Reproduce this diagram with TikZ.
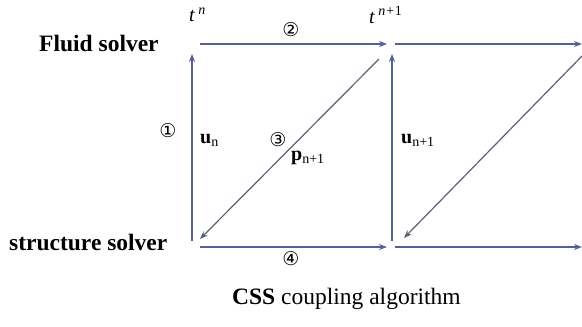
\documentclass[tikz,border=0pt]{standalone}
\usepackage{fontspec}
\setmainfont{Liberation Serif}
\newfontfamily\circfont{DejaVu Sans}
\usetikzlibrary{arrows.meta}
\definecolor{lineblue}{RGB}{84,96,150}
\definecolor{diaggray}{RGB}{92,96,124}
\begin{document}
\begin{tikzpicture}[x=1pt,y=-1pt,
  flow/.style={draw=lineblue,line width=1.4pt,-{Stealth[length=8pt,width=6pt]}},
  diag/.style={draw=diaggray,line width=1.2pt,-{Stealth[length=8pt,width=6pt]}},
  lbl/.style={inner sep=0pt,font=\fontsize{23.5}{26}\selectfont\bfseries},
  sym/.style={inner sep=0pt,font=\fontsize{20}{22}\selectfont},
  circ/.style={inner sep=0pt,font=\fontsize{19}{21}\selectfont\circfont}]
\useasboundingbox (0,0) rectangle (582,327);
% coordinates
\coordinate (a1) at (200,44); \coordinate (a2) at (387,44);
\coordinate (b1) at (395,44); \coordinate (b2) at (582,44);
\coordinate (c1) at (200,247); \coordinate (c2) at (387,247);
\coordinate (d1) at (395,247); \coordinate (d2) at (582,247);
\coordinate (v1s) at (192,241); \coordinate (v1e) at (192,54);
\coordinate (v2s) at (392,241); \coordinate (v2e) at (392,54);
\coordinate (g1s) at (379,59); \coordinate (g1e) at (200,239);
\coordinate (g2s) at (582,56); \coordinate (g2e) at (404,238);
% connectors
\draw[flow] (a1) -- (a2);
\draw[flow] (b1) -- (b2);
\draw[flow] (c1) -- (c2);
\draw[flow] (d1) -- (d2);
\draw[flow] (v1s) -- (v1e);
\draw[flow] (v2s) -- (v2e);
\draw[diag] (g1s) -- (g1e);
\draw[diag] (g2s) -- (g2e);
% labels
\node[lbl,anchor=west] (fluid) at (39,43) {Fluid solver};
\node[lbl,anchor=west] (struct) at (9,242) {structure solver};
\node[sym,anchor=west] (tn) at (189,15) {\textit{t}\,\textsuperscript{\textit{n}}};
\node[sym,anchor=west] (tn1) at (369,15) {\textit{t}\,\textsuperscript{\textit{n+}1}};
\node[circ] (c2lbl) at (291,30) {②};
\node[circ] (c1lbl) at (168,131) {①};
\node[circ] (c3lbl) at (278,140) {③};
\node[circ] (c4lbl) at (291,259) {④};
\node[sym,anchor=west] (un) at (200,140) {\textbf{u}\textsubscript{n}};
\node[sym,anchor=west] (pn1) at (291,158) {\textbf{p}\textsubscript{n+1}};
\node[sym,anchor=west] (un1) at (401,140) {\textbf{u}\textsubscript{n+1}};
\node[inner sep=0pt,anchor=west,font=\fontsize{23.5}{26}\selectfont] (title) at (232,299) {\textbf{CSS} coupling algorithm};
\end{tikzpicture}
\end{document}
